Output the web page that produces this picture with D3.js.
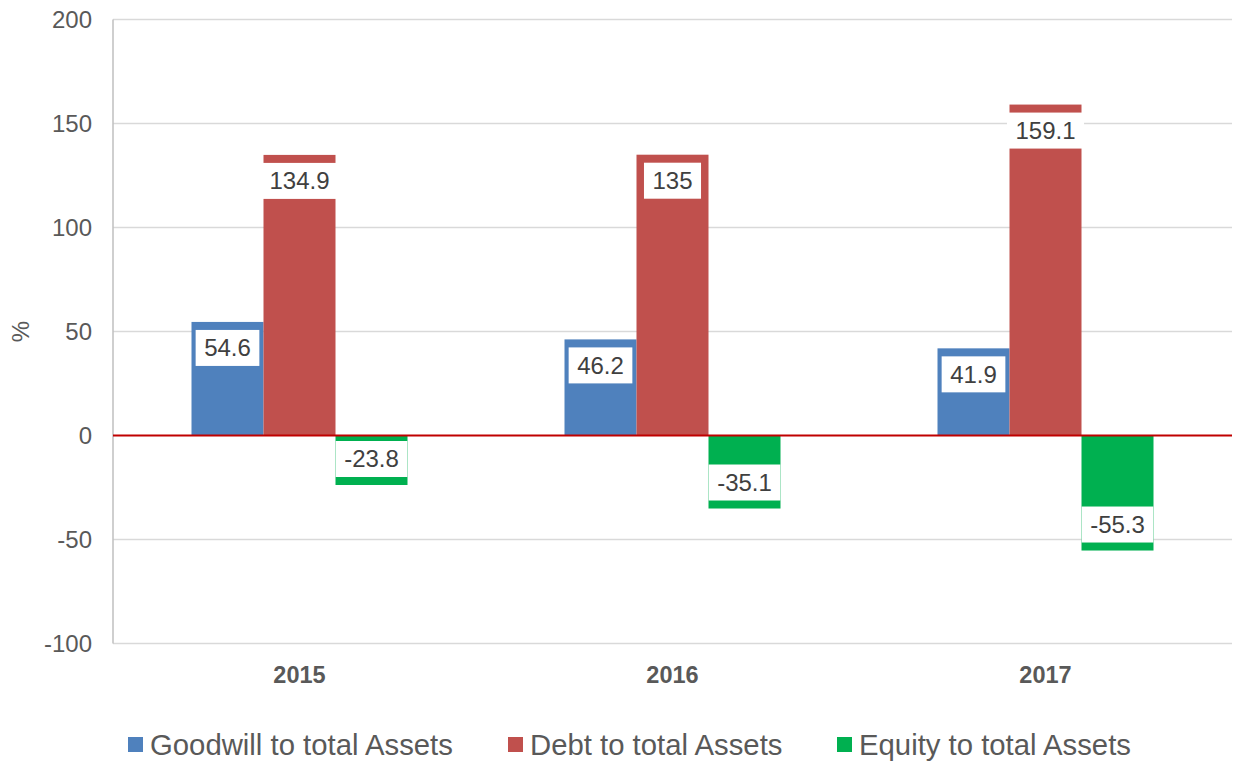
<!DOCTYPE html>
<html lang="en">
<head>
  <meta charset="UTF-8">
  <title>Assets ratios</title>
  <script src="https://d3js.org/d3.v7.min.js"></script>
  <style>
    body { margin: 0; background: #fff; }
    text { font-family: "Liberation Sans", Arial, sans-serif; }
  </style>
</head>
<body>
  <div id="viz"></div>

  <script>
    const years = ['2015', '2016', '2017'];
    const seriesNames = ['Goodwill to total Assets', 'Debt to total Assets', 'Equity to total Assets'];
    const goodwill = [54.6, 46.2, 41.9];
    const debt = [134.9, 135, 159.1];
    const equity = [-23.8, -35.1, -55.3];
    const yTicks = [-100, -50, 0, 50, 100, 150, 200];
    const colors = ['#4F81BD', '#C0504D', '#00B050'];

    const series = [goodwill, debt, equity];

    const width = 1235, height = 762;
    const margin = { top: 19.5, right: 3, bottom: 118.5, left: 113 };

    const svg = d3.select('#viz')
      .append('svg')
        .attr('width', width)
        .attr('height', height);

    const y = d3.scaleLinear()
      .domain([-100, 200])
      .range([height - margin.bottom, margin.top]);

    const x = d3.scaleBand()
      .domain(years)
      .range([margin.left, width - margin.right]);

    // bars inside each category
    const barW = 72;
    const xs = d3.scaleBand()
      .domain(d3.range(series.length))
      .range([x.bandwidth() / 2 - barW * 1.5, x.bandwidth() / 2 + barW * 1.5]);

    // gridlines
    svg.append('g')
      .selectAll('line')
      .data(yTicks.filter(d => d !== 0))
      .enter()
      .append('line')
        .attr('x1', margin.left)
        .attr('x2', width - margin.right)
        .attr('y1', d => y(d))
        .attr('y2', d => y(d))
        .style('stroke', '#D9D9D9')
        .style('stroke-width', 1.5);

    // left axis line
    svg.append('line')
      .attr('x1', margin.left).attr('x2', margin.left)
      .attr('y1', y(200)).attr('y2', y(-100))
      .style('stroke', '#BFBFBF')
      .style('stroke-width', 1.5);

    // tick labels
    svg.append('g')
      .selectAll('text')
      .data(yTicks)
      .enter()
      .append('text')
        .attr('x', 92)
        .attr('y', d => y(d))
        .attr('dy', '0.35em')
        .attr('text-anchor', 'end')
        .style('font-size', '24px')
        .style('fill', '#595959')
        .text(d => d);

    svg.append('text')
      .attr('transform', `translate(29, ${y(50)}) rotate(-90)`)
      .attr('text-anchor', 'middle')
      .style('font-size', '24px')
      .style('fill', '#595959')
      .text('%');

    // bars
    const groups = svg.append('g')
      .selectAll('g')
      .data(series)
      .enter()
      .append('g')
        .style('fill', (d, i) => colors[i]);

    groups.each(function (vals, si) {
      const g = d3.select(this);
      g.selectAll('rect')
        .data(vals)
        .enter()
        .append('rect')
          .attr('x', (d, i) => x(years[i]) + xs(si))
          .attr('width', xs.bandwidth())
          .attr('y', d => y(Math.max(0, d)))
          .attr('height', d => Math.abs(y(d) - y(0)));
    });

    // zero line
    svg.append('line')
      .attr('x1', margin.left).attr('x2', width - margin.right)
      .attr('y1', y(0)).attr('y2', y(0))
      .style('stroke', '#C00000')
      .style('stroke-width', 2);

    // data labels
    const labels = svg.append('g');
    series.forEach((vals, si) => {
      vals.forEach((v, i) => {
        const cx = x(years[i]) + xs(si) + xs.bandwidth() / 2;
        const boxH = 36;
        const top = v >= 0 ? y(v) + 8 : y(v) - 8 - boxH;
        const lg = labels.append('g');
        const t = lg.append('text')
          .attr('x', cx)
          .attr('y', top + boxH / 2)
          .attr('dy', '0.35em')
          .attr('text-anchor', 'middle')
          .style('font-size', '24px')
          .style('fill', '#404040')
          .text(v);
        const w = t.node().getComputedTextLength() + 17;
        lg.insert('rect', 'text')
          .attr('x', cx - w / 2)
          .attr('y', top)
          .attr('width', w)
          .attr('height', boxH)
          .style('fill', '#fff');
      });
    });

    // x labels
    svg.append('g')
      .selectAll('text')
      .data(years)
      .enter()
      .append('text')
        .attr('x', d => x(d) + x.bandwidth() / 2)
        .attr('y', 683)
        .attr('text-anchor', 'middle')
        .style('font-size', '23.5px')
        .style('font-weight', 'bold')
        .style('fill', '#595959')
        .text(d => d);

    // legend
    const legendX = [128, 508, 837];
    const legend = svg.append('g')
      .selectAll('g')
      .data(seriesNames)
      .enter()
      .append('g')
        .attr('transform', (d, i) => `translate(${legendX[i]}, 737)`);

    legend.append('rect')
      .attr('width', 15)
      .attr('height', 15)
      .style('fill', (d, i) => colors[i]);

    legend.append('text')
      .attr('x', 22)
      .attr('y', 7.5)
      .attr('dy', '0.35em')
      .style('font-size', '29.3px')
      .style('fill', '#595959')
      .text(d => d);
  </script>
</body>
</html>
